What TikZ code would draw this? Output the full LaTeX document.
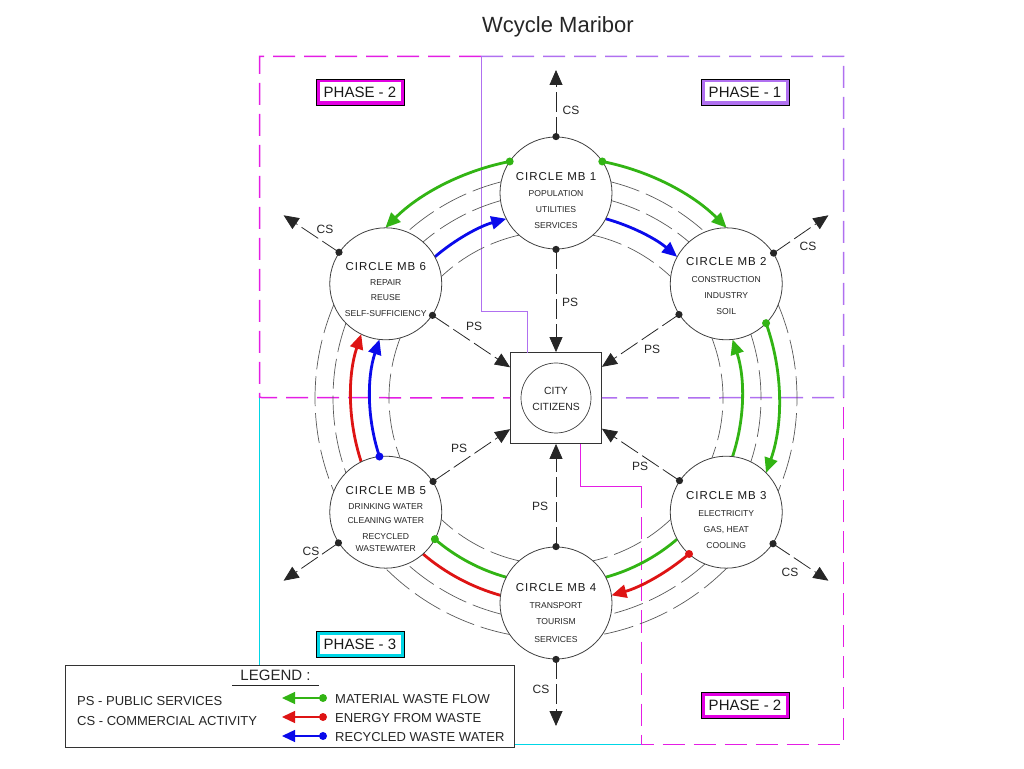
\documentclass[tikz,border=0pt]{standalone}
\usepackage{fontspec}
\setmainfont{Liberation Sans}
\newfontfamily\mbfont[LetterSpace=9]{Liberation Sans}
\usetikzlibrary{arrows.meta,calc}
\definecolor{mag}{RGB}{226,0,226}
\definecolor{magl}{RGB}{228,30,228}
\definecolor{vio}{RGB}{176,112,240}
\definecolor{cyn}{RGB}{0,214,230}
\definecolor{grn}{RGB}{50,180,20}
\definecolor{rd}{RGB}{222,20,20}
\definecolor{bl}{RGB}{10,10,235}
\newcommand\ringarc[4]{\draw[#1] ($(C)+(#3:#2)$) arc[start angle=#3, end angle=#4, radius=#2];}
\newcommand\ringdot[3]{\fill[#1] ($(C)+(#3:#2)$) circle (4);}
\begin{document}
\begin{tikzpicture}[x=1pt,y=1pt,
  phdash/.style={dash pattern=on 22pt off 9pt, line width=1.5pt},
  phsolid/.style={line width=1.8pt},
  ring/.style={draw=black!65, line width=0.7pt, dash pattern=on 30pt off 7pt},
  flowG/.style={draw=grn, line width=2.8pt, -{Triangle[length=15pt,width=13pt]}},
  flowR/.style={draw=rd, line width=2.8pt, -{Triangle[length=15pt,width=13pt]}},
  flowB/.style={draw=bl, line width=2.8pt, -{Triangle[length=15pt,width=13pt]}},
  plainG/.style={draw=grn, line width=2.8pt},
  plainR/.style={draw=rd, line width=2.8pt},
  mbcircle/.style={circle, draw=black!75, line width=0.8pt, fill=white, minimum size=112pt, inner sep=0pt},
  conn/.style={draw=black!85, line width=0.8pt, dash pattern=on 20pt off 5pt, -{Triangle[length=15pt,width=13pt]}},
  lbl/.style={font=\fontsize{12}{14}\selectfont, inner sep=0pt, text=black!85},
  mbtitle/.style={font=\mbfont\fontsize{11.5}{13}\selectfont, anchor=base, inner sep=0pt, text=black!90},
  mbline/.style={font=\fontsize{8.6}{10}\selectfont, anchor=base, inner sep=0pt, text=black!85},
  phouter/.style={draw=black, line width=0.7pt, fill=#1, minimum width=88pt, minimum height=26pt, inner sep=0pt},
  phinner/.style={fill=white, minimum width=81pt, minimum height=19pt, inner sep=0pt, font=\fontsize{15}{17}\selectfont, text=black!90},
  legtxt/.style={font=\fontsize{13}{15}\selectfont, anchor=base west, inner sep=0pt, text=black!85},
  legarrow/.style={line width=1.3pt, -{Triangle[length=13pt,width=12pt]}},
  dot/.style={fill=black!85}
]
\useasboundingbox (0,0) rectangle (1024,768);
\coordinate (C) at (556,370);

% title
\node[font=\fontsize{22}{26}\selectfont, text=black!85, inner sep=0pt] (title) at (558,741) {Wcycle Maribor};

% city box
\node[draw=black!80, line width=0.8pt, fill=white, minimum size=91pt, inner sep=0pt] (city) at (C) {};
\node[circle, draw=black!75, line width=0.7pt, minimum size=70pt, inner sep=0pt] (cityc) at (C) {};
\node[font=\fontsize{10.4}{12}\selectfont, anchor=base, inner sep=0pt, text=black!85] (cityt1) at ($(C)+(0,3)$) {CITY};
\node[font=\fontsize{10.4}{12}\selectfont, anchor=base, inner sep=0pt, text=black!85] (cityt2) at ($(C)+(0,-13)$) {CITIZENS};

% phase boundaries
\draw[magl, phdash] (481,711.5) -- (259.5,711.5) -- (259.5,370.5) -- (city.west);
\draw[vio, phdash] (481,711.5) -- (843.5,711.5) -- (843.5,370.5) -- (city.east);
\draw[vio, phsolid] (481.5,711) -- (481.5,456.5) -- (527.5,456.5) -- (527.5,415);
\draw[cyn, phsolid] (259.5,370) -- (259.5,23.5) -- (641,23.5);
\draw[magl, phsolid] (580.5,324) -- (580.5,281.5) -- (641.5,281.5);
\draw[magl, phdash] (641.5,281.5) -- (641.5,23.5) -- (843.5,23.5) -- (843.5,370.5);

% rings: segment MB1-MB2
\ringarc{flowG}{241}{78.92}{44.93}
\ringarc{ring}{223}{75.76}{48.09}
\ringarc{ring}{205}{74.31}{49.54}
\ringarc{flowB}{186}{74.49}{49.36}
\ringarc{ring}{167}{77.23}{46.62}
% segment MB6-MB1
\ringarc{flowG}{241}{101.08}{135.07}
\ringarc{ring}{223}{104.24}{131.91}
\ringarc{ring}{205}{105.69}{130.46}
\ringarc{flowB}{186}{130.64}{105.51}
\ringarc{ring}{167}{102.77}{133.38}
% segment MB2-MB3
\ringarc{ring}{241}{22.77}{-22.77}
\ringarc{flowG}{223}{19.61}{-19.61}
\ringarc{ring}{205}{18.16}{-18.16}
\ringarc{flowG}{186}{-18.34}{18.34}
\ringarc{ring}{167}{21.08}{-21.08}
% segment MB3-MB4
\ringarc{ring}{241}{-44.93}{-78.92}
\ringarc{ring}{223}{-48.09}{-75.76}
\ringarc{flowR}{205}{-49.54}{-74.31}
\ringarc{plainG}{186}{-49.36}{-74.49}
\ringarc{ring}{167}{-46.62}{-77.23}
% segment MB4-MB5
\ringarc{ring}{241}{-101.08}{-135.07}
\ringarc{ring}{223}{-104.24}{-131.91}
\ringarc{plainR}{205}{-105.69}{-130.46}
\ringarc{plainG}{186}{-130.64}{-105.51}
\ringarc{ring}{167}{-102.77}{-133.38}
% segment MB5-MB6
\ringarc{ring}{241}{157.23}{202.77}
\ringarc{ring}{223}{160.39}{199.61}
\ringarc{flowR}{205}{198.16}{161.84}
\ringarc{flowB}{186}{198.34}{161.66}
\ringarc{ring}{167}{158.92}{200.92}

% circle nodes
\node[mbcircle] (n1) at ($(C)+(90:205)$) {};
\node[mbcircle] (n2) at ($(C)+(33.85:205)$) {};
\node[mbcircle] (n3) at ($(C)+(-33.85:205)$) {};
\node[mbcircle] (n4) at ($(C)+(-90:205)$) {};
\node[mbcircle] (n5) at ($(C)+(213.85:205)$) {};
\node[mbcircle] (n6) at ($(C)+(146.15:205)$) {};

% flow start dots
\ringdot{grn}{241}{78.92}
\ringdot{grn}{241}{101.08}
\ringdot{grn}{223}{19.61}
\ringdot{rd}{205}{-49.54}
\ringdot{grn}{186}{-130.64}
\ringdot{bl}{186}{198.34}

% node texts
\node[mbtitle] (t1) at ($(n1)+(0,12)$) {CIRCLE MB 1};
\foreach \s/\d [count=\i] in {POPULATION/-4,UTILITIES/-20,SERVICES/-36}
  \node[mbline] (t1-\i) at ($(n1)+(0,\d)$) {\s};
\node[mbtitle] (t2) at ($(n2)+(0,18)$) {CIRCLE MB 2};
\foreach \s/\d [count=\i] in {CONSTRUCTION/1,INDUSTRY/-15,SOIL/-31}
  \node[mbline] (t2-\i) at ($(n2)+(0,\d)$) {\s};
\node[mbtitle] (t3) at ($(n3)+(0,13)$) {CIRCLE MB 3};
\foreach \s/\d [count=\i] in {ELECTRICITY/-4,{GAS, HEAT}/-20,COOLING/-36}
  \node[mbline] (t3-\i) at ($(n3)+(0,\d)$) {\s};
\node[mbtitle] (t4) at ($(n4)+(0,11)$) {CIRCLE MB 4};
\foreach \s/\d [count=\i] in {TRANSPORT/-6,TOURISM/-22,SERVICES/-39}
  \node[mbline] (t4-\i) at ($(n4)+(0,\d)$) {\s};
\node[mbtitle] (t5) at ($(n5)+(0,18)$) {CIRCLE MB 5};
\foreach \s/\d [count=\i] in {DRINKING WATER/3,CLEANING WATER/-11,RECYCLED/-27,WASTEWATER/-39}
  \node[mbline] (t5-\i) at ($(n5)+(0,\d)$) {\s};
\node[mbtitle] (t6) at ($(n6)+(0,13)$) {CIRCLE MB 6};
\foreach \s/\d [count=\i] in {REPAIR/-2,REUSE/-17,SELF-SUFFICIENCY/-33}
  \node[mbline] (t6-\i) at ($(n6)+(0,\d)$) {\s};

% CS arrows
\coordinate (cs1) at ($(C)+(90:328)$);
\coordinate (cs2) at ($(C)+(33.85:328)$);
\coordinate (cs3) at ($(C)+(-33.85:328)$);
\coordinate (cs4) at ($(C)+(-90:328)$);
\coordinate (cs5) at ($(C)+(213.85:328)$);
\coordinate (cs6) at ($(C)+(146.15:328)$);
\draw[conn] (n1.90) -- (cs1);
\draw[conn] (n2.33.85) -- (cs2);
\draw[conn] (n3.326.15) -- (cs3);
\draw[conn] (n4.270) -- (cs4);
\draw[conn] (n5.213.85) -- (cs5);
\draw[conn] (n6.146.15) -- (cs6);
% PS arrows
\draw[conn] (n1.270) -- (city);
\draw[conn] (n2.213.85) -- (city);
\draw[conn] (n3.146.15) -- (city);
\draw[conn] (n4.90) -- (city);
\draw[conn] (n5.33.85) -- (city);
\draw[conn] (n6.326.15) -- (city);
% dots
\foreach \n/\a/\b in {n1/90/270, n2/33.85/213.85, n3/326.15/146.15, n4/270/90, n5/213.85/33.85, n6/146.15/326.15}{
  \fill[dot] (\n.\a) circle (3.6);
  \fill[dot] (\n.\b) circle (3.6);
}
% CS / PS labels
\node[lbl] (lcs1) at (571,658) {CS};
\node[lbl] (lps1) at (570,466) {PS};
\node[lbl] (lcs2) at (808,522) {CS};
\node[lbl] (lps2) at (652,419) {PS};
\node[lbl] (lcs3) at (790,196) {CS};
\node[lbl] (lps3) at (640,302) {PS};
\node[lbl] (lcs4) at (541,79) {CS};
\node[lbl] (lps4) at (540,262) {PS};
\node[lbl] (lcs5) at (311,217) {CS};
\node[lbl] (lps5) at (459,320) {PS};
\node[lbl] (lcs6) at (325,539) {CS};
\node[lbl] (lps6) at (474,442) {PS};

% phase labels
\node[phouter=mag] (ph2a) at (360,676) {};
\node[phinner] (ph2at) at (ph2a) {PHASE - 2};
\node[phouter=vio] (ph1) at (745,676) {};
\node[phinner] (ph1t) at (ph1) {PHASE - 1};
\node[phouter=cyn] (ph3) at (360,124) {};
\node[phinner] (ph3t) at (ph3) {PHASE - 3};
\node[phouter=mag] (ph2b) at (745,63) {};
\node[phinner] (ph2bt) at (ph2b) {PHASE - 2};

% legend
\node[draw=black!80, line width=1pt, fill=white, minimum width=449pt, minimum height=82pt, inner sep=0pt] (legend) at (289.5,62) {};
\node[font=\fontsize{15}{17}\selectfont, anchor=base, inner sep=0pt, text=black!85] (legt) at (275.5,88) {LEGEND :};
\draw[black!85, line width=0.9pt] (232,83) -- (319,83);
\node[legtxt] (lps) at (77,63) {PS - PUBLIC SERVICES};
\node[legtxt] (lcs) at (77,43) {CS - COMMERCIAL ACTIVITY};
\coordinate (lg1a) at (323,70); \coordinate (lg1b) at (282,70);
\coordinate (lg2a) at (323,51); \coordinate (lg2b) at (282,51);
\coordinate (lg3a) at (323,32); \coordinate (lg3b) at (282,32);
\draw[legarrow, grn] (lg1a) -- (lg1b); \fill[grn] (lg1a) circle (4);
\draw[legarrow, rd] (lg2a) -- (lg2b); \fill[rd] (lg2a) circle (4);
\draw[legarrow, bl] (lg3a) -- (lg3b); \fill[bl] (lg3a) circle (4);
\node[legtxt] (lf1) at (335,65) {MATERIAL WASTE FLOW};
\node[legtxt] (lf2) at (335,46) {ENERGY FROM WASTE};
\node[legtxt] (lf3) at (335,27) {RECYCLED WASTE WATER};
\end{tikzpicture}
\end{document}
